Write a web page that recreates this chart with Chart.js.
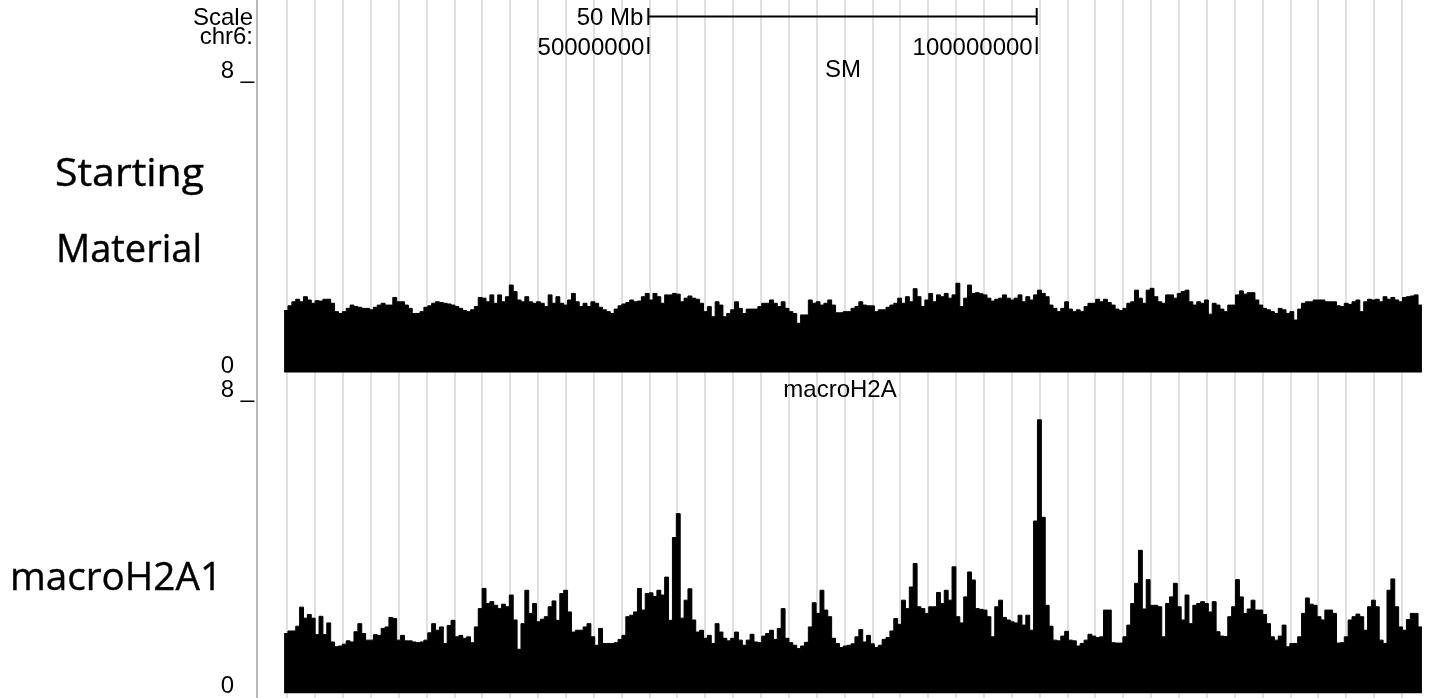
<!DOCTYPE html>
<html>
<head>
<meta charset="utf-8">
<title>chr6 SM / macroH2A</title>
<script src="https://cdn.jsdelivr.net/npm/chart.js@4.4.0/dist/chart.umd.min.js"></script>
<style>
  html, body { margin: 0; padding: 0; background: #fff; }
  #wrap { position: relative; width: 1435px; height: 698px; overflow: hidden; }
</style>
</head>
<body>
<div id="wrap"><canvas id="trackChart" width="1435" height="698"></canvas></div>
<script>
//// Data

// genome window (Mb) and bins
const chromName = 'chr6:';
const binStartMb = 3.1;
const binSizeMb = 0.5;
const viewLimits = [0, 8];

// ruler
const rulerTicksMb = [50, 100];
const rulerTickLabels = ['50000000', '100000000'];
const rulerSpanLabel = '50 Mb';

// track names
const trackTitles = ['SM', 'macroH2A'];
const trackSideLabels = [['Starting', 'Material'], ['macroH2A1']];

// Starting Material signal, one value per 0.5 Mb bin
const smValues = [
  1.70, 1.83, 1.94, 2.01, 1.94, 2.08, 1.99, 1.90, 1.97, 1.96,
  2.01, 2.01, 1.90, 1.67, 1.62, 1.67, 1.76, 1.85, 1.81, 1.79,
  1.76, 1.76, 1.72, 1.79, 1.85, 1.90, 1.85, 1.85, 2.06, 1.94,
  1.94, 1.85, 1.76, 1.62, 1.62, 1.67, 1.79, 1.83, 1.90, 1.94,
  1.92, 1.90, 1.88, 1.85, 1.81, 1.76, 1.70, 1.67, 1.72, 1.81,
  2.06, 2.04, 1.94, 2.13, 1.90, 2.13, 1.94, 2.08, 2.40, 2.22,
  1.99, 1.94, 2.08, 1.94, 1.90, 1.94, 1.90, 1.81, 2.13, 1.90,
  2.08, 1.90, 1.85, 1.99, 2.17, 1.94, 1.81, 1.90, 1.81, 1.94,
  1.90, 1.79, 1.72, 1.67, 1.62, 1.74, 1.83, 1.88, 1.92, 1.99,
  1.94, 1.96, 2.08, 2.17, 1.99, 2.17, 2.08, 1.90, 2.13, 2.13,
  2.17, 2.15, 1.94, 2.04, 2.10, 2.04, 2.01, 1.90, 1.67, 1.81,
  1.53, 1.94, 1.85, 1.53, 1.62, 1.72, 1.94, 1.76, 1.62, 1.74,
  1.74, 1.74, 1.81, 1.90, 1.90, 1.99, 1.90, 1.81, 1.94, 1.76,
  1.67, 1.62, 1.35, 1.58, 1.58, 1.99, 1.90, 1.94, 1.85, 1.90,
  1.99, 1.85, 1.64, 1.64, 1.67, 1.67, 1.76, 1.81, 1.94, 1.85,
  1.83, 1.83, 1.67, 1.72, 1.72, 1.79, 1.85, 1.90, 2.04, 1.90,
  2.08, 1.94, 2.30, 2.08, 1.81, 1.99, 2.17, 1.94, 2.13, 2.08,
  2.17, 2.04, 2.13, 2.45, 1.81, 2.04, 2.40, 2.17, 2.19, 2.16,
  2.13, 2.04, 1.96, 2.01, 2.04, 2.13, 2.04, 1.99, 2.04, 2.13,
  1.94, 2.08, 1.99, 2.13, 2.26, 2.17, 2.08, 1.85, 1.76, 1.67,
  1.76, 1.94, 1.74, 1.67, 1.72, 1.67, 1.81, 1.90, 1.90, 2.01,
  1.94, 2.01, 1.92, 1.85, 1.74, 1.70, 1.76, 1.90, 1.94, 2.26,
  2.04, 1.90, 2.26, 2.31, 2.08, 1.94, 1.90, 2.13, 2.13, 2.04,
  2.17, 2.22, 2.26, 1.94, 1.85, 1.94, 1.90, 1.99, 1.60, 1.90,
  1.85, 1.74, 1.67, 1.85, 1.85, 2.13, 2.24, 2.15, 2.19, 2.19,
  1.99, 1.85, 1.76, 1.72, 1.67, 1.62, 1.76, 1.72, 1.62, 1.67,
  1.44, 1.74, 1.90, 1.94, 1.94, 1.99, 1.99, 1.99, 1.94, 1.94,
  1.94, 1.83, 1.81, 1.90, 1.87, 1.94, 1.99, 1.67, 1.94, 2.01,
  1.99, 2.01, 1.94, 2.08, 2.01, 2.06, 1.99, 1.94, 2.06, 2.08,
  2.10, 2.13, 1.85
];

// macroH2A1 signal, same bins
const macroValues = [
  1.63, 1.70, 1.70, 1.83, 2.35, 2.05, 2.15, 2.05, 1.60, 2.10,
  1.60, 1.92, 1.40, 1.27, 1.29, 1.34, 1.43, 1.40, 1.68, 1.90,
  1.63, 1.45, 1.45, 1.60, 1.58, 1.77, 1.81, 2.07, 2.04, 1.45,
  1.58, 1.43, 1.43, 1.40, 1.38, 1.40, 1.45, 1.65, 1.90, 1.72,
  1.81, 1.36, 1.85, 1.99, 1.54, 1.58, 1.50, 1.54, 1.38, 1.81,
  2.31, 2.86, 2.45, 2.50, 2.40, 2.31, 2.43, 2.36, 2.68, 2.00,
  1.20, 1.90, 2.81, 2.18, 2.45, 1.95, 2.02, 2.09, 2.36, 2.52,
  1.99, 2.72, 2.81, 2.22, 1.67, 1.72, 1.72, 1.81, 1.90, 1.54,
  1.31, 1.77, 1.36, 1.36, 1.36, 1.38, 1.47, 1.58, 2.09, 2.13,
  2.22, 2.86, 2.27, 2.72, 2.74, 2.64, 2.81, 2.68, 3.17, 1.99,
  4.25, 4.90, 2.05, 2.54, 2.85, 2.00, 1.67, 1.72, 1.50, 1.58,
  1.36, 1.90, 1.67, 1.50, 1.43, 1.50, 1.67, 1.45, 1.31, 1.45,
  1.61, 1.40, 1.38, 1.56, 1.63, 1.72, 1.47, 1.77, 2.31, 1.50,
  1.38, 1.31, 1.22, 1.29, 1.39, 1.81, 2.47, 2.18, 2.81, 2.27,
  2.09, 1.50, 1.36, 1.25, 1.29, 1.31, 1.35, 1.54, 1.74, 1.40,
  1.58, 1.35, 1.25, 1.31, 1.47, 1.52, 1.70, 2.04, 1.88, 2.54,
  2.31, 2.90, 3.54, 2.36, 2.31, 2.18, 2.36, 2.36, 2.75, 2.45,
  2.81, 2.54, 3.45, 2.09, 1.92, 2.63, 3.31, 3.09, 2.31, 2.29,
  2.27, 2.09, 1.54, 2.36, 2.54, 2.07, 2.00, 1.95, 1.92, 2.13,
  1.86, 2.13, 1.72, 4.70, 7.46, 4.80, 2.40, 1.83, 1.45, 1.43,
  1.56, 1.69, 1.45, 1.43, 1.29, 1.36, 1.45, 1.61, 1.56, 1.52,
  1.54, 2.27, 2.27, 1.38, 1.37, 1.37, 1.54, 1.86, 2.45, 3.00,
  3.90, 2.30, 3.10, 2.40, 2.40, 2.36, 1.54, 2.45, 2.63, 3.00,
  2.36, 2.00, 2.68, 1.90, 2.40, 2.45, 2.50, 2.45, 2.22, 2.50,
  1.68, 1.56, 1.55, 2.09, 2.36, 3.10, 2.63, 2.18, 2.30, 2.54,
  2.27, 2.27, 2.15, 1.90, 1.54, 1.45, 1.56, 1.86, 1.27, 1.36,
  1.36, 1.54, 2.18, 2.60, 2.43, 2.40, 2.09, 2.00, 2.27, 2.27,
  2.18, 1.37, 1.38, 1.54, 2.00, 2.09, 2.16, 2.09, 1.72, 2.36,
  2.54, 2.36, 1.45, 1.36, 2.81, 3.12, 2.36, 1.81, 1.72, 2.01,
  2.18, 2.18, 1.81
];

//// Layout (pixels)
const plotLeft = 257;
const canvasW = 1435;
const canvasH = 698;
const mbOriginPx = 260;       // where 0 Mb would sit
const pxPerMb = 7.767;
const gridStartMb = 3.515;
const gridStepMb = 3.588;
const gridCount = 41;
// pixel rows of each track's 0 and 8
const smRows = { top: 81, zero: 372.5 };
const macroRows = { top: 400, zero: 693.3 };

const textFont = '24px "Liberation Sans", Arial, Helvetica, sans-serif';
const sideFont = '38px "Open Sans", "Noto Sans", sans-serif';

//// Helpers
const binStarts = smValues.map((_, i) => binStartMb + i * binSizeMb);
const binEndMb = binStartMb + smValues.length * binSizeMb;

const toSteps = (values) => values
  .map((v, i) => ({ x: binStarts[i], y: v }))
  .concat([{ x: binEndMb, y: values[values.length - 1] }]);

// y range so the track's 0..8 lands on its rows when the scale spans the whole canvas
const trackRange = (rows) => {
  const perUnit = (rows.zero - rows.top) / (viewLimits[1] - viewLimits[0]);
  return {
    min: viewLimits[0] - (canvasH - rows.zero) / perUnit,
    max: viewLimits[1] + rows.top / perUnit
  };
};

const drawText = (ctx, str, x, y, font, align) => {
  ctx.save();
  ctx.font = font;
  ctx.fillStyle = '#000';
  ctx.textAlign = align;
  ctx.textBaseline = 'alphabetic';
  ctx.fillText(str, x, y);
  ctx.restore();
};

// big side label, fitted to the width it has in the picture
const drawSideLabel = (ctx, str, cx, y, width) => {
  ctx.save();
  ctx.font = sideFont;
  ctx.fillStyle = '#000';
  ctx.strokeStyle = '#000';
  ctx.lineWidth = 0.4;
  ctx.textAlign = 'center';
  ctx.textBaseline = 'alphabetic';
  const sx = width / ctx.measureText(str).width;
  ctx.translate(cx, y);
  ctx.scale(sx, 1);
  ctx.fillText(str, 0, 0);
  ctx.strokeText(str, 0, 0);
  ctx.restore();
};

const xMin = (plotLeft - mbOriginPx) / pxPerMb;
const xMax = (canvasW - mbOriginPx) / pxPerMb;

// Labels, ruler and axis limits
const browserLabels = {
  id: 'browserLabels',
  afterDraw(chart) {
    const ctx = chart.ctx;
    const x = chart.scales.x;
    const ySM = chart.scales.ySM;
    const yMH = chart.scales.yMH;

    // ruler
    const r0 = x.getPixelForValue(rulerTicksMb[0]);
    const r1 = x.getPixelForValue(rulerTicksMb[1]);
    ctx.save();
    ctx.strokeStyle = '#000';
    ctx.lineWidth = 2;
    ctx.beginPath();
    ctx.moveTo(r0, 16.5); ctx.lineTo(r1, 16.5);
    ctx.moveTo(r0, 8); ctx.lineTo(r0, 25);
    ctx.moveTo(r1, 8); ctx.lineTo(r1, 25);
    ctx.moveTo(r0, 37); ctx.lineTo(r0, 54);
    ctx.moveTo(r1, 37); ctx.lineTo(r1, 54);
    ctx.stroke();
    ctx.restore();

    drawText(ctx, 'Scale', 253, 25, textFont, 'right');
    drawText(ctx, chromName, 253, 44, textFont, 'right');
    drawText(ctx, rulerSpanLabel, r0 - 5, 25, textFont, 'right');
    drawText(ctx, rulerTickLabels[0], r0 - 4, 55, textFont, 'right');
    drawText(ctx, rulerTickLabels[1], r1 - 4, 55, textFont, 'right');

    // view limits per track
    [ySM, yMH].forEach((s) => {
      drawText(ctx, viewLimits[1] + ' _', 254, s.getPixelForValue(viewLimits[1]) - 3.5, textFont, 'right');
      drawText(ctx, String(viewLimits[0]), 234, s.getPixelForValue(viewLimits[0]), textFont, 'right');
    });

    // track titles
    drawText(ctx, trackTitles[0], 843, 77, textFont, 'center');
    drawText(ctx, trackTitles[1], 840, 397, textFont, 'center');

    // side labels
    drawSideLabel(ctx, trackSideLabels[0][0], 129.5, 186, 149);
    drawSideLabel(ctx, trackSideLabels[0][1], 129, 261.5, 146);
    drawSideLabel(ctx, trackSideLabels[1][0], 116, 590, 212);
  }
};

//// Chart
const chartInitial = () => {
  const el = document.getElementById('trackChart');
  const smRange = trackRange(smRows);
  const mhRange = trackRange(macroRows);

  new Chart(el, {
    type: 'line',
    data: {
      datasets: [{
        label: trackTitles[0],
        data: toSteps(smValues),
        yAxisID: 'ySM',
        stepped: 'before',
        fill: 'origin',
        backgroundColor: '#000',
        borderColor: '#000',
        borderWidth: 1,
        pointRadius: 0
      }, {
        label: trackTitles[1],
        data: toSteps(macroValues),
        yAxisID: 'yMH',
        stepped: 'before',
        fill: 'origin',
        backgroundColor: '#000',
        borderColor: '#000',
        borderWidth: 1,
        pointRadius: 0
      }]
    },
    options: {
      responsive: false,
      animation: false,
      devicePixelRatio: 1,
      events: [],
      layout: { padding: { left: plotLeft, right: 0, top: 0, bottom: 0 } },
      plugins: { legend: { display: false }, tooltip: { enabled: false } },
      scales: {
        x: {
          type: 'linear',
          min: xMin,
          max: xMax,
          afterBuildTicks: (scale) => {
            const ticks = [{ value: xMin }];
            for (let k = 0; k < gridCount; k++) ticks.push({ value: gridStartMb + k * gridStepMb });
            scale.ticks = ticks;
          },
          ticks: { display: false, autoSkip: false },
          border: { display: false },
          grid: {
            drawTicks: false,
            lineWidth: 2,
            color: (c) => (c.tick && c.tick.value === xMin ? '#b8b8b8' : '#e0e0e0')
          }
        },
        ySM: {
          type: 'linear',
          display: false,
          min: smRange.min,
          max: smRange.max
        },
        yMH: {
          type: 'linear',
          display: false,
          min: mhRange.min,
          max: mhRange.max
        }
      }
    },
    plugins: [browserLabels]
  });
};

window.onload = () => {
  chartInitial();
};
</script>
</body>
</html>
